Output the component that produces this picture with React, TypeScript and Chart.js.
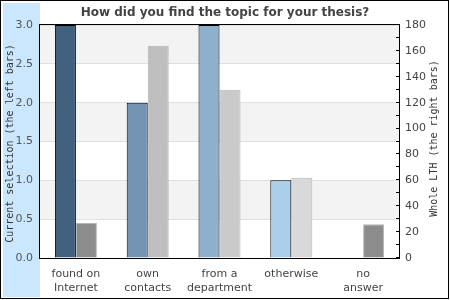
import React, { useEffect, useRef } from "react";
import { Chart, registerables } from "chart.js";

Chart.register(...registerables);

const title = "How did you find the topic for your thesis?";
const categories: string[][] = [
  ["found on", "Internet"],
  ["own", "contacts"],
  ["from a", "department"],
  ["otherwise"],
  ["no", "answer"],
];
const currentSelection = [3, 2, 3, 1, 0];
const wholeLTH = [27, 164, 130, 62, 26];
const leftColors = ["#41607e", "#7395b3", "#8eb0cc", "#abcfea", "#abcfea"];
const rightColors = ["#8c8c8c", "#bebebe", "#cacaca", "#d9d9d9", "#8c8c8c"];
const leftAxisTitle = "Current selection (the left bars)";
const rightAxisTitle = "Whole LTH (the right bars)";
const leftTicks = [0, 0.5, 1, 1.5, 2, 2.5, 3];
const rightMinorTicks = [0, 10, 20, 30, 40, 50, 60, 70, 80, 90, 100, 110, 120, 130, 140, 150, 160, 170, 180];

const decor = {
  id: "decor",
  beforeDraw(chart: any) {
    const { ctx, chartArea: a } = chart;
    const y = chart.scales.y;
    ctx.save();
    ctx.fillStyle = "#ffffff";
    ctx.fillRect(0, 0, chart.width, chart.height);
    ctx.fillStyle = "#cbe7fd";
    ctx.fillRect(3, 3, a.left - 3, chart.height - 6);
    ctx.fillStyle = "#f3f3f3";
    for (let i = 1; i < leftTicks.length; i += 2) {
      const top = y.getPixelForValue(leftTicks[i + 1] ?? leftTicks[i]);
      const bot = y.getPixelForValue(leftTicks[i]);
      ctx.fillRect(a.left, top, a.right - a.left, bot - top);
    }
    ctx.restore();
  },
  afterDraw(chart: any) {
    const { ctx, chartArea: a } = chart;
    const y1 = chart.scales.y1;
    ctx.save();
    ctx.strokeStyle = "#000";
    ctx.lineWidth = 1;
    ctx.strokeRect(Math.round(a.left) - 0.5, Math.round(a.top) - 0.5, Math.round(a.right - a.left) + 1, Math.round(a.bottom - a.top) + 1);
    ctx.beginPath();
    for (const v of rightMinorTicks) {
      const py = Math.round(y1.getPixelForValue(v)) - 0.5;
      ctx.moveTo(a.right - 3, py);
      ctx.lineTo(a.right, py);
    }
    ctx.stroke();
    ctx.strokeRect(0.5, 0.5, chart.width - 2, chart.height - 2);

    ctx.fillStyle = "#444";
    ctx.font = "bold 12px 'DejaVu Sans'";
    ctx.textAlign = "center";
    ctx.textBaseline = "alphabetic";
    ctx.fillText(title, chart.width / 2, 16);

    ctx.font = "10px 'DejaVu Sans Mono'";
    ctx.fillStyle = "#333";
    ctx.textBaseline = "middle";
    const cy = (a.top + a.bottom) / 2;
    ctx.save();
    ctx.translate(10, cy + 2);
    ctx.rotate(-Math.PI / 2);
    ctx.fillText(leftAxisTitle, 0, 0);
    ctx.restore();
    ctx.save();
    ctx.translate(434, cy - 3);
    ctx.rotate(-Math.PI / 2);
    ctx.fillText(rightAxisTitle, 0, 0);
    ctx.restore();
    ctx.restore();
  },
};

export default function App() {
  const ref = useRef<HTMLCanvasElement>(null);
  useEffect(() => {
    if (!ref.current) return;
    const font = { family: "'DejaVu Sans'", size: 11 };
    const chart = new Chart(ref.current, {
      type: "bar",
      data: {
        labels: categories,
        datasets: [
          {
            data: currentSelection,
            yAxisID: "y",
            backgroundColor: leftColors,
            borderColor: "#000",
            borderWidth: (c: any) => (c.raw === 0 ? 0 : 1),
            categoryPercentage: 0.585,
            barPercentage: 1,
          },
          {
            data: wholeLTH,
            yAxisID: "y1",
            backgroundColor: rightColors,
            borderColor: "#b5b5b5",
            borderWidth: 1,
            categoryPercentage: 0.585,
            barPercentage: 1,
          },
        ],
      },
      options: {
        responsive: false,
        animation: false,
        layout: { padding: { left: 3, top: 25, right: 2, bottom: 2 } },
        plugins: { legend: { display: false }, title: { display: false }, tooltip: { enabled: false } },
        scales: {
          x: {
            grid: { display: false },
            border: { display: false },
            ticks: { font, color: "#444", padding: 2, maxRotation: 0, autoSkip: false },
            afterFit: (s: any) => { s.height = 40; },
          },
          y: {
            position: "left",
            min: 0,
            max: 3,
            grid: { color: "#e0e0e0", drawTicks: false },
            border: { display: false },
            ticks: { stepSize: 0.5, font, color: "#555", padding: 7, callback: (v: any) => Number(v).toFixed(1) },
            afterFit: (s: any) => { s.width = 37; },
          },
          y1: {
            position: "right",
            min: 0,
            max: 180,
            grid: { drawOnChartArea: false, drawTicks: false },
            border: { display: false },
            ticks: { stepSize: 20, font, color: "#444", padding: 6 },
            afterFit: (s: any) => { s.width = 49; },
          },
        },
      },
      plugins: [decor],
    } as any);
    return () => chart.destroy();
  }, []);
  return (
    <div style={{ position: "absolute", left: 0, top: 0, width: 450, height: 300 }}>
      <canvas ref={ref} width={450} height={300} />
    </div>
  );
}
